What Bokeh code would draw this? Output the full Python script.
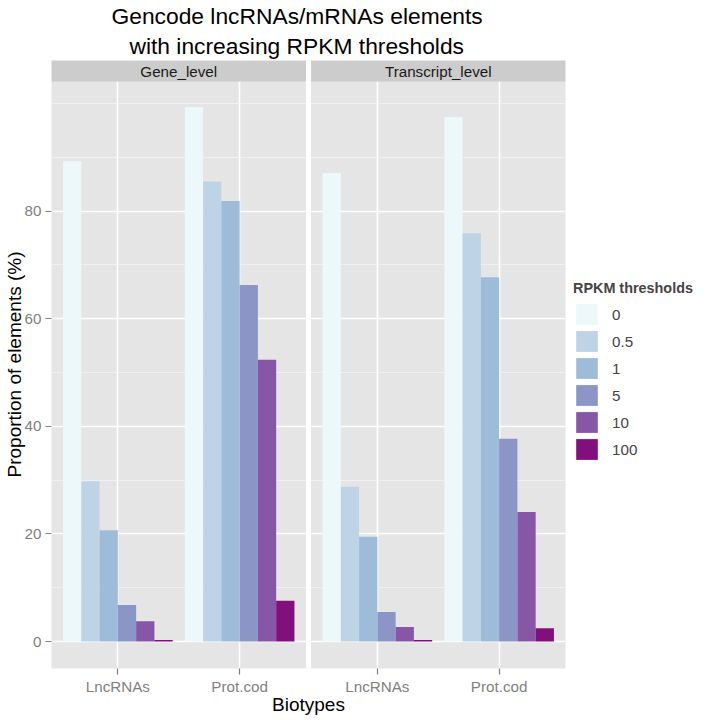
import numpy as np
from bokeh.plotting import figure
from bokeh.models import (Range1d, FixedTicker, BoxAnnotation, Label, Legend,
                          LegendItem, Title)
from bokeh.embed import file_html
from bokeh.resources import INLINE

# ---------------- data ----------------
facets = ["Gene_level", "Transcript_level"]
biotypes = ["LncRNAs", "Prot.cod"]
thresholds = ["0", "0.5", "1", "5", "10", "100"]
colors = ["#EDF8FB", "#BFD3E6", "#9EBCDA", "#8C96C6", "#8856A7", "#810F7C"]

gene_lncrna = [89.3, 29.8, 20.7, 6.8, 3.8, 0.3]
gene_protcod = [99.3, 85.5, 81.9, 66.3, 52.4, 7.6]
transcript_lncrna = [87.1, 28.8, 19.5, 5.5, 2.7, 0.3]
transcript_protcod = [97.5, 75.9, 67.7, 37.7, 24.1, 2.5]

y_ticks = [0, 20, 40, 60, 80]
y_minor = [10, 30, 50, 70, 90, 100]

title_lines = ["Gencode lncRNAs/mRNAs elements", "with increasing RPKM thresholds"]

values = {
    ("Gene_level", "LncRNAs"): gene_lncrna,
    ("Gene_level", "Prot.cod"): gene_protcod,
    ("Transcript_level", "LncRNAs"): transcript_lncrna,
    ("Transcript_level", "Prot.cod"): transcript_protcod,
}

# ---------------- layout geometry ----------------
FONT = "Liberation Sans"
frame_w, frame_h = 514, 608
panel_lo, panel_hi = 0.455, 2.545
span = panel_hi - panel_lo
gap_px = 5
gap = gap_px * 2 * span / (frame_w - gap_px)
offsets = [0.0, span + gap]
x_end = panel_lo + 2 * span + gap

y_lo, y_panel_top = -5.0, 104.1
strip_px = 21
px_per_unit = (frame_h - strip_px) / (y_panel_top - y_lo)
y_hi = y_panel_top + strip_px / px_per_unit

bar_w = 0.15

p = figure(frame_width=frame_w, frame_height=frame_h,
           x_range=Range1d(panel_lo, x_end), y_range=Range1d(y_lo, y_hi),
           output_backend="svg", toolbar_location=None,
           background_fill_color="#E5E5E5", border_fill_color="white",
           outline_line_color=None, min_border=0, min_border_right=145)

# titles (added bottom line first: later-added titles sit further out)
title_offsets = [60, 78]      # left-aligned, shifted so lines centre left of the frame centre
title_standoffs = [0, 4]
for line, off, so in reversed(list(zip(title_lines, title_offsets, title_standoffs))):
    p.add_layout(Title(text=line, align="left", offset=off,
                       text_font_size="22.8px", text_font_style="normal",
                       text_font=FONT, text_color="black", standoff=so), "above")

# bars
renderers = []
for i, thr in enumerate(thresholds):
    xs, tops = [], []
    for fi, fac in enumerate(facets):
        for bi, bt in enumerate(biotypes):
            xs.append(offsets[fi] + (bi + 1) + (i - 2.5) * bar_w)
            tops.append(values[(fac, bt)][i])
    r = p.vbar(x=xs, top=tops, bottom=0, width=bar_w,
               fill_color=colors[i], line_color=None)
    renderers.append(r)

# axes / grids
x_tick_pos = [offsets[fi] + bi + 1 for fi in range(len(facets)) for bi in range(len(biotypes))]
x_tick_lab = [bt for fi in range(len(facets)) for bt in biotypes]

p.xaxis.ticker = FixedTicker(ticks=x_tick_pos)
p.xaxis.major_label_overrides = {pos: lab for pos, lab in zip(x_tick_pos, x_tick_lab)}
p.xgrid.ticker = FixedTicker(ticks=x_tick_pos)
p.yaxis.ticker = FixedTicker(ticks=y_ticks)
p.ygrid.ticker = FixedTicker(ticks=y_ticks, minor_ticks=y_minor)

p.grid.grid_line_color = "white"
p.grid.grid_line_width = 1.6
p.ygrid.minor_grid_line_color = "#F2F2F2"
p.ygrid.minor_grid_line_width = 0.8

for ax in (p.xaxis, p.yaxis):
    ax.axis_line_color = None
    ax.major_tick_line_color = "#7F7F7F"
    ax.major_tick_line_width = 1.2
    ax.major_tick_out = 6
    ax.major_tick_in = 0
    ax.minor_tick_line_color = None
    ax.major_label_text_color = "#7F7F7F"
    ax.major_label_text_font = FONT
    ax.major_label_text_font_size = "15.2px"
    ax.axis_label_text_font = FONT
    ax.axis_label_text_font_size = "19px"
    ax.axis_label_text_font_style = "normal"
    ax.axis_label_text_color = "black"

p.xaxis.axis_label = "Biotypes"
p.yaxis.axis_label = "Proportion of elements (%)"
p.xaxis.major_label_standoff = 3
p.xaxis.axis_label_standoff = -4
p.yaxis.major_label_standoff = 4
p.yaxis.axis_label_standoff = -3

# gap between panels and facet strips
p.add_layout(BoxAnnotation(left=panel_hi, right=panel_hi + gap, bottom=y_lo, top=y_hi,
                           fill_color="white", fill_alpha=1, line_color=None))
for fi, fac in enumerate(facets):
    left = offsets[fi] + panel_lo
    right = offsets[fi] + panel_hi if fi == 0 else x_end
    p.add_layout(BoxAnnotation(left=left, right=right, bottom=y_panel_top, top=y_hi,
                               fill_color="#CCCCCC", fill_alpha=1, line_color=None))
    p.add_layout(Label(x=offsets[fi] + 1.5, y=(y_panel_top + y_hi) / 2, text=fac,
                       text_align="center", text_baseline="middle",
                       text_font=FONT, text_font_size="15.2px", text_color="#1A1A1A"))

# legend
legend = Legend(items=[LegendItem(label=t, renderers=[r]) for t, r in zip(thresholds, renderers)],
                title="RPKM thresholds", location=(8, 206),
                title_text_font=FONT, title_text_font_size="14.4px", title_text_font_style="bold",
                title_standoff=5,
                label_text_font=FONT, label_text_font_size="15.2px", label_standoff=12,
                glyph_width=27, glyph_height=26, spacing=1,
                margin=0, padding=4, border_line_color=None, background_fill_alpha=0)
p.add_layout(legend, "right")

open("out.html", "w").write(file_html(p, INLINE))
